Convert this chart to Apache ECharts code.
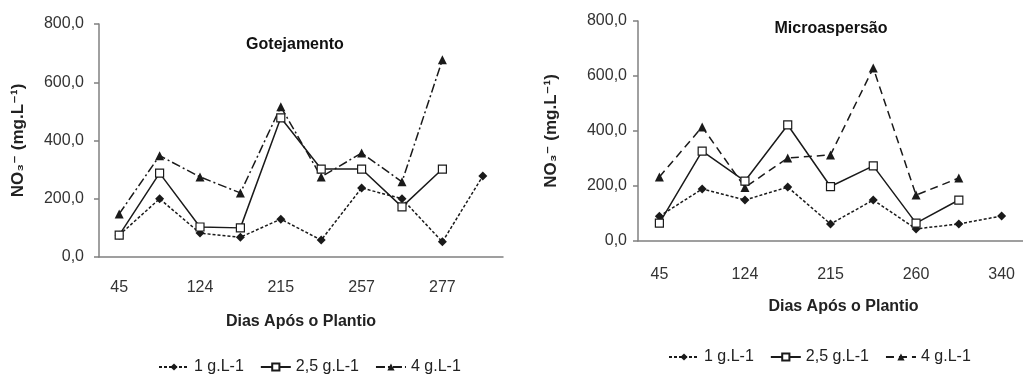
<!DOCTYPE html>
<html>
<head>
<meta charset="utf-8">
<script src="https://cdn.jsdelivr.net/npm/echarts@6/dist/echarts.min.js"></script>
<style>html,body{margin:0;padding:0;background:#fff}#c{width:1023px;height:376px}</style>
</head>
<body>
<div id="c"></div>
<script>
// Gotejamento (left)
var catsG = ['45', '89', '124', '166', '215', '236', '257', '267', '277', '298'];
var g1 = [75, 200, 82, 68, 130, 58, 237, 200, 52, 278];
var g25 = [75, 288, 103, 100, 478, 302, 302, 172, 302, null];
var g4 = [148, 348, 275, 220, 516, 275, 357, 258, 677, null];
// Microaspersão (right)
var catsM = ['45', '89', '124', '166', '215', '236', '260', '300', '340'];
var m1 = [90, 189, 149, 196, 62, 149, 44, 62, 91];
var m25 = [65, 327, 218, 422, 198, 273, 65, 149, null];
var m4 = [233, 415, 195, 302, 313, 629, 167, 229, null];
var yTicks = [0, 200, 400, 600, 800];
var seriesNames = ['1 g.L-1', '2,5 g.L-1', '4 g.L-1'];

var FONT = 'Liberation Sans, Arial, DejaVu Sans, sans-serif';
var LC = '#1a1a1a';
var AX = '#808080';

function fmt(v){ return v.toFixed(1).replace('.', ','); }

function xAxis(grid, cats, margin, nameGap, namePad){
  return {
    type: 'category', gridIndex: grid, data: cats, boundaryGap: true,
    axisLine: {lineStyle: {color: AX, width: 1.5}},
    axisTick: {interval: 0, length: 7, lineStyle: {color: AX, width: 1.5}},
    axisLabel: {interval: 1, margin: margin, color: '#333', fontSize: 16, fontFamily: FONT},
    name: 'Dias Após o Plantio', nameLocation: 'middle', nameGap: nameGap,
    nameTextStyle: {fontSize: 16, fontWeight: 'bold', color: '#222', fontFamily: FONT, padding: namePad}
  };
}
function yAxis(grid, margin, nameGap){
  return {
    type: 'value', gridIndex: grid, min: yTicks[0], max: yTicks[yTicks.length-1], interval: 200,
    axisLine: {show: true, lineStyle: {color: AX, width: 1.5}},
    axisTick: {show: true, length: 5, lineStyle: {color: AX, width: 1.5}},
    splitLine: {show: false},
    axisLabel: {margin: margin, color: '#333', fontSize: 16, fontFamily: FONT, formatter: fmt},
    name: 'NO\u2083\u207B (mg.L\u207B\u00B9)', nameLocation: 'middle', nameRotate: 90, nameGap: nameGap,
    nameTextStyle: {fontSize: 17, fontWeight: 'bold', color: '#222', fontFamily: FONT}
  };
}
function mk(prefix, name, idx, data, lineType, symbol, fill){
  return {
    type: 'line', name: prefix + name, xAxisIndex: idx, yAxisIndex: idx, data: data,
    symbol: symbol, symbolSize: symbol === 'rect' ? 8 : 9,
    showSymbol: true, connectNulls: false,
    lineStyle: {color: LC, width: 1.5, type: lineType},
    itemStyle: {color: fill, borderColor: LC, borderWidth: symbol === 'rect' ? 1.2 : 0},
    emphasis: {disabled: true},
    z: symbol === 'rect' ? 3 : 2
  };
}

var chart = echarts.init(document.getElementById('c'), null, {renderer: 'canvas'});
var legendBase = {
  orient: 'horizontal', itemWidth: 30, itemHeight: 9, itemGap: 16,
  textStyle: {fontSize: 16, color: '#222', fontFamily: FONT},
  formatter: function(n){ return n.slice(2); }
};
chart.setOption({
  animation: false,
  title: [
    {text: 'Gotejamento', left: 290, top: 32, textAlign: 'center',
     textStyle: {fontSize: 16, fontWeight: 'bold', color: '#111', fontFamily: FONT}},
    {text: 'Microaspersão', left: 826, top: 16, textAlign: 'center',
     textStyle: {fontSize: 16, fontWeight: 'bold', color: '#111', fontFamily: FONT}}
  ],
  grid: [
    {left: 99, top: 24, width: 404, height: 233},
    {left: 638, top: 21, width: 390, height: 220}
  ],
  xAxis: [xAxis(0, catsG, 23, 57, [0, 0, 0, 0]), xAxis(1, catsM, 26, 58, [0, 0, 0, 26])],
  yAxis: [yAxis(0, 15, 72), yAxis(1, 11, 78)],
  legend: [
    Object.assign({}, legendBase, {left: 153, top: 354, data: seriesNames.map(function(n){return 'G:' + n;})}),
    Object.assign({}, legendBase, {left: 663, top: 344, data: seriesNames.map(function(n){return 'M:' + n;})})
  ],
  series: [
    mk('G:', seriesNames[0], 0, g1, [3, 2], 'diamond', LC),
    mk('G:', seriesNames[1], 0, g25, 'solid', 'rect', '#fff'),
    mk('G:', seriesNames[2], 0, g4, [9, 3, 2, 3], 'triangle', LC),
    mk('M:', seriesNames[0], 1, m1, [3, 2], 'diamond', LC),
    mk('M:', seriesNames[1], 1, m25, 'solid', 'rect', '#fff'),
    mk('M:', seriesNames[2], 1, m4, [8, 5], 'triangle', LC)
  ]
});
</script>
</body>
</html>
